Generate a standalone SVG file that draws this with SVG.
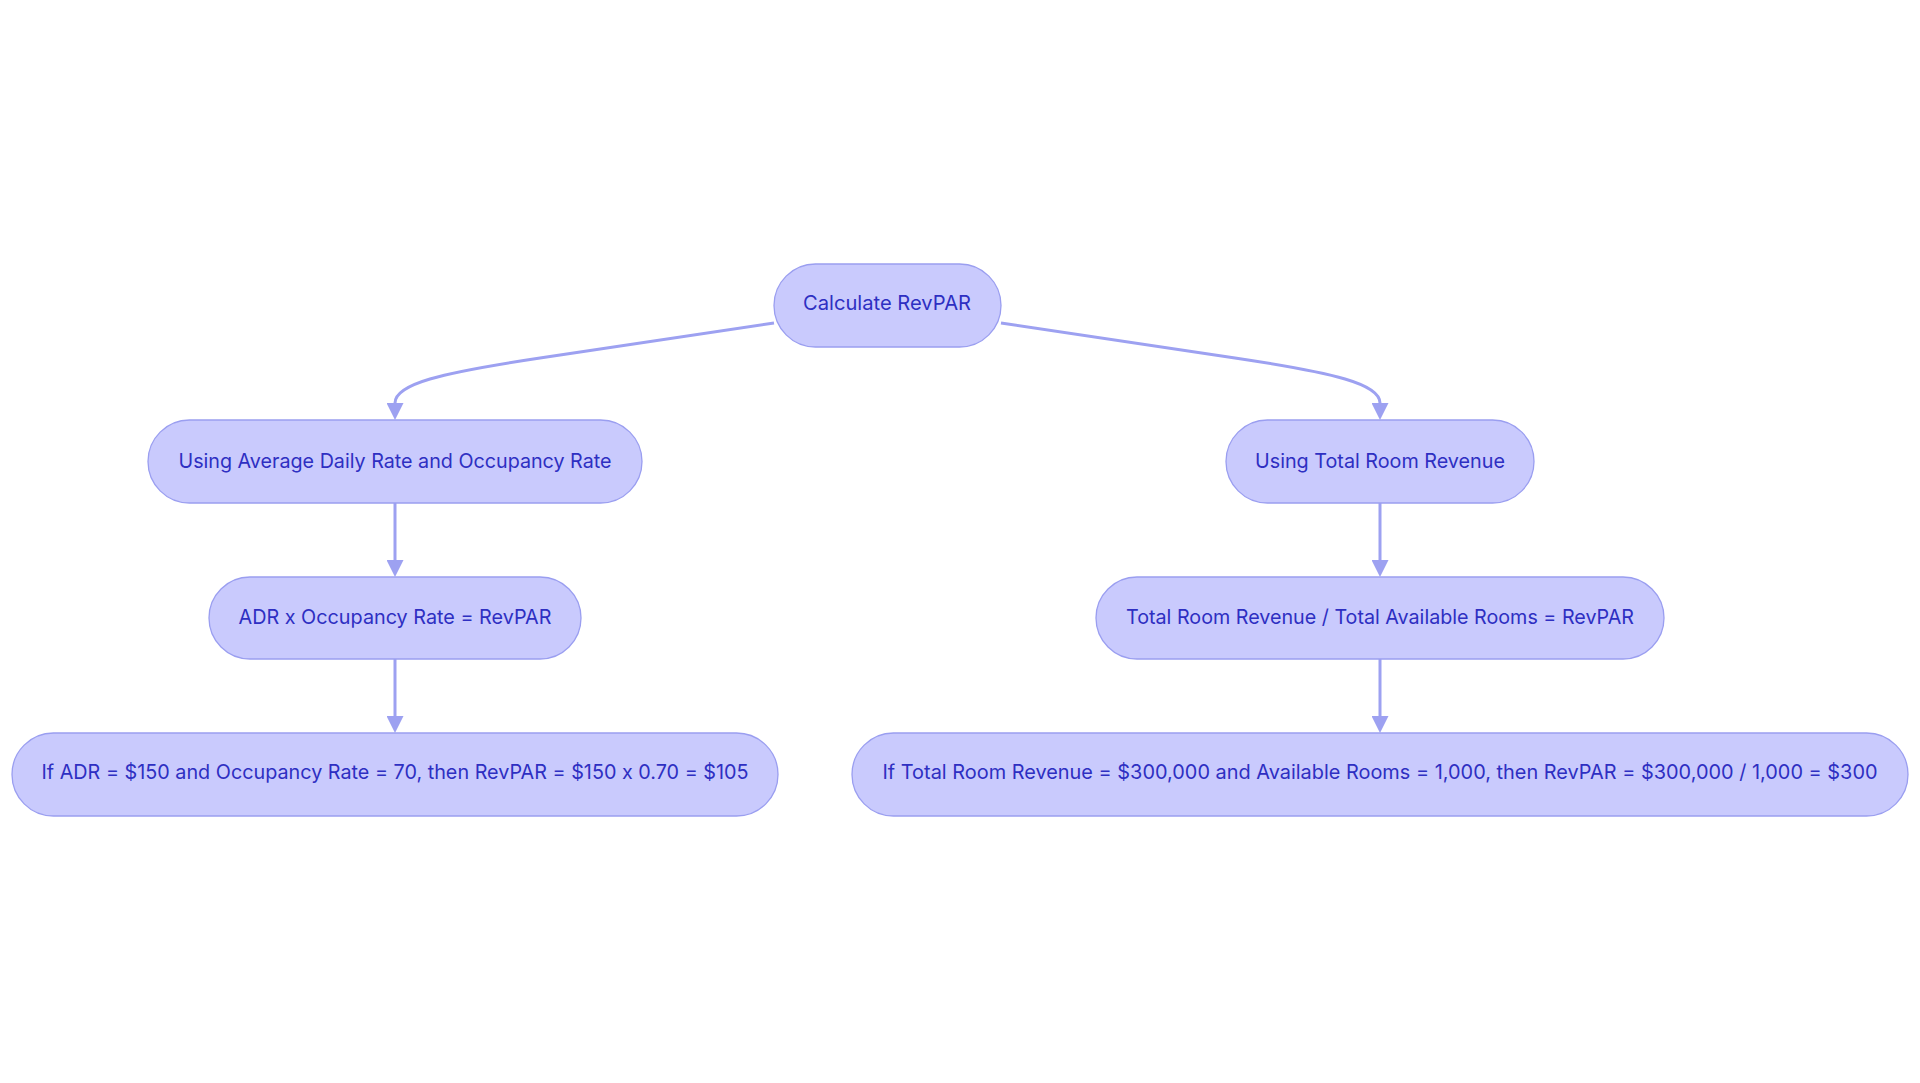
<svg xmlns="http://www.w3.org/2000/svg" width="1920" height="1083" viewBox="0 0 1920 1083">
<style>
.node rect{fill:#C9CAFD;stroke:#9A9EF0;stroke-width:1.3}
.node text{font-family:Inter,"Noto Sans","Liberation Sans",sans-serif;font-size:20px;fill:#2E2FC2;text-anchor:middle;dominant-baseline:central;font-feature-settings:"calt" 0}
.edge{fill:none;stroke:#9DA1F1;stroke-width:3}
</style>
<defs>
<marker id="arr" viewBox="0 0 10 10" refX="0" refY="5" markerUnits="userSpaceOnUse" markerWidth="17" markerHeight="17" orient="auto">
<path d="M0,0 L10,5 L0,10 Z" fill="#9DA1F1"/>
</marker>
</defs>
<rect width="1920" height="1083" fill="#FFFFFF"/>
<g id="connectors">
<path class="edge" d="M774,323 L540,358 C440,373 395,384 395,403" marker-end="url(#arr)"/>
<path class="edge" d="M1001,323 L1235,358 C1335,373 1380,384 1380,403" marker-end="url(#arr)"/>
<path class="edge" d="M395,503 L395,560" marker-end="url(#arr)"/>
<path class="edge" d="M395,659 L395,716" marker-end="url(#arr)"/>
<path class="edge" d="M1380,503 L1380,560" marker-end="url(#arr)"/>
<path class="edge" d="M1380,659 L1380,716" marker-end="url(#arr)"/>
</g>
<g id="n_calc" class="node">
<rect x="774" y="264" width="227" height="83" rx="41.5"/>
<text x="887" y="303" textLength="168" lengthAdjust="spacingAndGlyphs">Calculate RevPAR</text>
</g>
<g id="n_adr_method" class="node">
<rect x="148" y="420" width="494" height="83" rx="41.5"/>
<text x="395" y="460.5" textLength="433" lengthAdjust="spacingAndGlyphs">Using Average Daily Rate and Occupancy Rate</text>
</g>
<g id="n_total_method" class="node">
<rect x="1226" y="420" width="308" height="83" rx="41.5"/>
<text x="1380" y="460.5" textLength="250" lengthAdjust="spacingAndGlyphs">Using Total Room Revenue</text>
</g>
<g id="n_adr_formula" class="node">
<rect x="209" y="577" width="372" height="82" rx="41"/>
<text x="395" y="616.5" textLength="313" lengthAdjust="spacingAndGlyphs">ADR x Occupancy Rate = RevPAR</text>
</g>
<g id="n_total_formula" class="node">
<rect x="1096" y="577" width="568" height="82" rx="41"/>
<text x="1380" y="616.5" textLength="508" lengthAdjust="spacingAndGlyphs">Total Room Revenue / Total Available Rooms = RevPAR</text>
</g>
<g id="n_adr_example" class="node">
<rect x="12" y="733" width="766" height="83" rx="41.5"/>
<text x="395" y="772" textLength="707" lengthAdjust="spacingAndGlyphs">If ADR = $150 and Occupancy Rate = 70, then RevPAR = $150 x 0.70 = $105</text>
</g>
<g id="n_total_example" class="node">
<rect x="852" y="733" width="1056" height="83" rx="41.5"/>
<text x="1380" y="772" textLength="995" lengthAdjust="spacingAndGlyphs">If Total Room Revenue = $300,000 and Available Rooms = 1,000, then RevPAR = $300,000 / 1,000 = $300</text>
</g>
</svg>
